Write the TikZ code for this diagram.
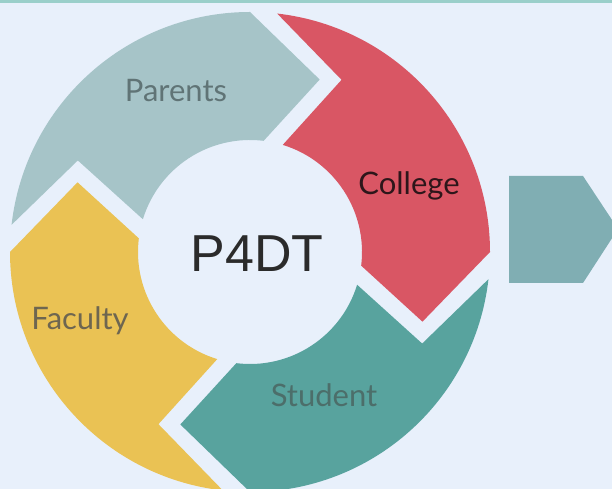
\documentclass[tikz,border=0pt]{standalone}
\usepackage{fontspec}
\setmainfont{Lato}
\newfontfamily\hubfont{Liberation Sans}
\usetikzlibrary{positioning, calc}

\definecolor{bgblue}{HTML}{E8F0FB}
\definecolor{topline}{HTML}{9ACFCA}
\definecolor{parentsc}{HTML}{A6C4C8}
\definecolor{collegec}{HTML}{D95664}
\definecolor{studentc}{HTML}{58A39E}
\definecolor{facultyc}{HTML}{EAC254}
\definecolor{nextc}{HTML}{80AEB3}

\begin{document}
\begin{tikzpicture}[
    x=1pt, y=1pt,
    seg/.style={fill=#1, draw=none},
    lbl/.style={anchor=base, inner sep=0pt, font=\fontsize{31}{33}\selectfont},
    hub/.style={anchor=base, inner sep=0pt, font=\hubfont\fontsize{52}{56}\selectfont, text=black!83}
]
% Fläche und Rand oben
\useasboundingbox (0,0) rectangle (612,489);
\clip (0,0) rectangle (612,489);
\fill[bgblue] (0,0) rectangle (612,489);
\fill[topline] (0,486) rectangle (612,489);

% vier Pfeilsegmente im Kreis (Mitte bei 250,237)
\begin{scope}[shift={(250,237)}]
\fill[seg=parentsc] (173.5:240) arc[start angle=173.5, end angle=90, radius=240] -- (68:186) -- (83:112) arc[start angle=83, end angle=163, radius=112] -- (152:195) -- cycle;
\fill[seg=collegec] (83.5:240) arc[start angle=83.5, end angle=0, radius=240] -- (-22:186) -- (-7:112) arc[start angle=-7, end angle=73, radius=112] -- (62:195) -- cycle;
\fill[seg=studentc] (353.5:240) arc[start angle=353.5, end angle=270, radius=240] -- (248:186) -- (263:112) arc[start angle=263, end angle=343, radius=112] -- (332:195) -- cycle;
\fill[seg=facultyc] (263.5:240) arc[start angle=263.5, end angle=180, radius=240] -- (158:186) -- (173:112) arc[start angle=173, end angle=253, radius=112] -- (242:195) -- cycle;
\end{scope}

% Pfeil rechts (abgeschnitten)
\fill[nextc] (509,313) -- (583,313) -- (618,260) -- (583,206) -- (509,206) -- cycle;

% Beschriftungen
\node[hub] (hub) at (257,217) {P4DT};
\node[lbl, text={rgb,255:red,96;green,116;blue,118}] (parents) at (176,387) {Parents};
\node[lbl, text={rgb,255:red,45;green,22;blue,26}] (college) at (409,294) {College};
\node[lbl, text={rgb,255:red,110;green,102;blue,80}] (faculty) at (80,159) {Faculty};
\node[lbl, text={rgb,255:red,76;green,110;blue,106}] (student) at (324,82) {Student};

\end{tikzpicture}
\end{document}
